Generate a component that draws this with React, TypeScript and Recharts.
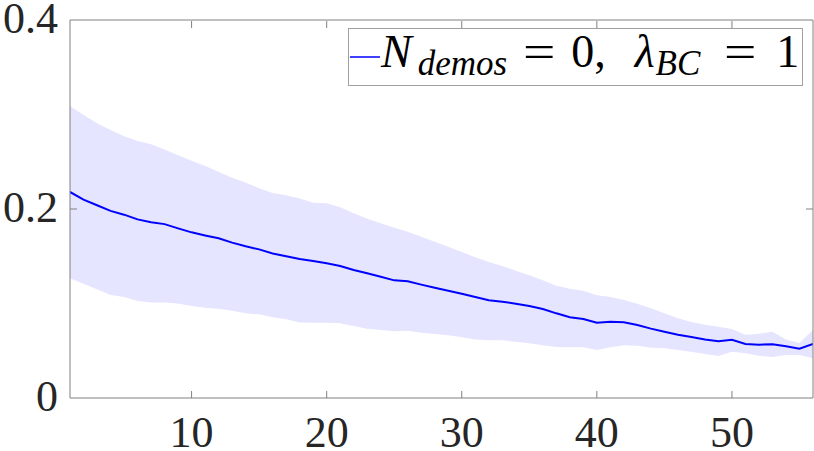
import React from "react";
import {
  ComposedChart,
  Area,
  Line,
  XAxis,
  YAxis,
  Legend,
} from "recharts";

// step index (x axis)
const steps = [
  1, 2, 3, 4, 5, 6, 7, 8, 9, 10, 11, 12, 13, 14, 15, 16, 17, 18, 19, 20,
  21, 22, 23, 24, 25, 26, 27, 28, 29, 30, 31, 32, 33, 34, 35, 36, 37, 38, 39, 40,
  41, 42, 43, 44, 45, 46, 47, 48, 49, 50, 51, 52, 53, 54, 55, 56,
];

const meanVals = [
  0.218, 0.21, 0.204, 0.198, 0.194, 0.189, 0.186, 0.184, 0.1795, 0.1753,
  0.172, 0.169, 0.1644, 0.1605, 0.1573, 0.153, 0.15, 0.147, 0.145, 0.1425,
  0.1397, 0.1354, 0.132, 0.1284, 0.1245, 0.1235, 0.12, 0.1167, 0.1136, 0.1104,
  0.1069, 0.1034, 0.1019, 0.0998, 0.0974, 0.0942, 0.0896, 0.0854, 0.0836, 0.0797,
  0.0808, 0.0801, 0.0772, 0.0734, 0.0702, 0.067, 0.0646, 0.062, 0.06, 0.0617,
  0.0571, 0.0564, 0.0568, 0.0547, 0.0522, 0.0571,
];

const upperVals = [
  0.309, 0.2995, 0.2907, 0.2836, 0.277, 0.272, 0.2684, 0.263, 0.257, 0.251,
  0.2455, 0.2395, 0.233, 0.228, 0.222, 0.217, 0.2145, 0.211, 0.2067, 0.206,
  0.2018, 0.1954, 0.1898, 0.1848, 0.1802, 0.176, 0.1707, 0.1654, 0.16, 0.1545,
  0.1489, 0.1439, 0.1397, 0.1347, 0.1298, 0.1245, 0.1188, 0.1155, 0.1136, 0.1087,
  0.1069, 0.1037, 0.0998, 0.0949, 0.0896, 0.0843, 0.0804, 0.0776, 0.0755, 0.073,
  0.067, 0.068, 0.0702, 0.062, 0.0582, 0.072,
];

const lowerVals = [
  0.1266, 0.121, 0.115, 0.109, 0.107, 0.1026, 0.101, 0.101, 0.1, 0.0974,
  0.0956, 0.0945, 0.0924, 0.0896, 0.0885, 0.0854, 0.0833, 0.08, 0.0797, 0.0797,
  0.079, 0.0762, 0.0734, 0.072, 0.0706, 0.0712, 0.069, 0.0677, 0.0663, 0.0642,
  0.062, 0.061, 0.061, 0.0596, 0.0579, 0.0557, 0.054, 0.0536, 0.0536, 0.0508,
  0.0536, 0.0557, 0.0554, 0.0533, 0.0526, 0.0508, 0.049, 0.0466, 0.0444, 0.049,
  0.0473, 0.0448, 0.0434, 0.0455, 0.0455, 0.042,
];

const xTicks = [10, 20, 30, 40, 50];
const yTicks = [0, 0.2, 0.4];
const yTickLabels = ["0", "0.2", "0.4"];

const data = steps.map((s, i) => ({
  step: s,
  mean: meanVals[i],
  band: [lowerVals[i], upperVals[i]],
}));

const colors = {
  line: "#0000ff",
  band: "#e5e5ff",
  axis: "#808080",
  text: "#262626",
};

const serif = "'Liberation Serif', 'DejaVu Serif', serif";
const TICK_LEN = 7;

// MATLAB-style ticks: marks point into the axes box
const BottomTick = ({ x, y, payload }: any) => (
  <g>
    <line x1={x} x2={x} y1={y} y2={y - TICK_LEN} stroke={colors.axis} />
    <text x={x} y={y + 49} textAnchor="middle" fontSize={44} fill={colors.text} fontFamily={serif}>
      {payload.value}
    </text>
  </g>
);

// top axis has height 1, so its line sits at y + 1
const TopTick = ({ x, y }: any) => (
  <line x1={x} x2={x} y1={y + 1} y2={y + 1 + TICK_LEN} stroke={colors.axis} />
);

const LeftTick = ({ x, y, payload }: any) => {
  const idx = yTicks.indexOf(payload.value);
  return (
    <g>
      {payload.value > 0 && payload.value < 0.4 && (
        <line x1={x} x2={x + TICK_LEN} y1={y} y2={y} stroke={colors.axis} />
      )}
      <text x={x - 12} y={y + 12.5} textAnchor="end" fontSize={44} fill={colors.text} fontFamily={serif}>
        {idx >= 0 ? yTickLabels[idx] : payload.value}
      </text>
    </g>
  );
};

const RightTick = ({ x, y, payload }: any) =>
  payload.value > 0 && payload.value < 0.4 ? (
    <line x1={x} x2={x - TICK_LEN} y1={y} y2={y} stroke={colors.axis} />
  ) : null;

// pieces of the LaTeX-ish label, spaced like math mode
const sub = (txt: string, ml: number) => (
  <span
    style={{
      display: "inline-block",
      fontSize: 35,
      fontStyle: "italic",
      position: "relative",
      top: 8,
      marginLeft: ml,
    }}
  >
    {txt}
  </span>
);

const eq = (ml: number) => (
  <span
    style={{
      display: "inline-block",
      width: 33,
      marginLeft: ml,
      transform: "scaleX(1.25)",
      transformOrigin: "left center",
    }}
  >
    =
  </span>
);

const LegendBox = () => (
  <div
    style={{
      position: "relative",
      boxSizing: "border-box",
      width: 455,
      height: 58,
      border: "1px solid #a0a0a0",
      background: "#fff",
      fontFamily: serif,
      color: "#000",
      whiteSpace: "nowrap",
    }}
  >
    <svg width={30} height={6} style={{ position: "absolute", left: 1, top: 25 }}>
      <line x1={0} x2={30} y1={3} y2={3} stroke={colors.line} strokeWidth={1.5} />
    </svg>
    <div
      style={{
        position: "absolute",
        left: 32,
        top: -3,
        fontSize: 46,
        lineHeight: "51px",
      }}
    >
      <i>N</i>
      {sub("demos", 6)}
      {eq(16)}
      <span style={{ marginLeft: 15 }}>0,</span>
      <i style={{ marginLeft: 29 }}>λ</i>
      {sub("BC", 1)}
      {eq(24)}
      <span style={{ marginLeft: 19 }}>1</span>
    </div>
  </div>
);

export default function App() {
  return (
    <div style={{ position: "absolute", left: 0, top: 0, background: "#fff" }}>
      <ComposedChart
        width={814}
        height={451}
        data={data}
        margin={{ top: 19, right: 0, bottom: 0, left: 0 }}
      >
        <XAxis
          dataKey="step"
          type="number"
          domain={[1, 56]}
          ticks={xTicks}
          allowDataOverflow
          height={53}
          tickSize={0}
          tickMargin={0}
          tickLine={false}
          axisLine={{ stroke: colors.axis }}
          tick={<BottomTick />}
          interval={0}
        />
        <XAxis
          xAxisId="top"
          orientation="top"
          dataKey="step"
          type="number"
          domain={[1, 56]}
          ticks={xTicks}
          allowDataOverflow
          height={1}
          tickSize={0}
          tickMargin={0}
          tickLine={false}
          axisLine={{ stroke: colors.axis }}
          tick={<TopTick />}
          interval={0}
        />
        <YAxis
          type="number"
          domain={[0, 0.4]}
          ticks={yTicks}
          allowDataOverflow
          width={70}
          tickSize={0}
          tickMargin={0}
          tickLine={false}
          axisLine={{ stroke: colors.axis }}
          tick={<LeftTick />}
          interval={0}
        />
        <YAxis
          yAxisId="right"
          orientation="right"
          type="number"
          domain={[0, 0.4]}
          ticks={yTicks}
          allowDataOverflow
          width={1}
          tickSize={0}
          tickMargin={0}
          tickLine={false}
          axisLine={{ stroke: colors.axis }}
          tick={<RightTick />}
          interval={0}
        />
        {/* band is tied to the top/right axes so they get drawn too; same domains */}
        <Area
          xAxisId="top"
          yAxisId="right"
          dataKey="band"
          type="linear"
          stroke="none"
          fill={colors.band}
          fillOpacity={1}
          isAnimationActive={false}
          activeDot={false}
        />
        <Line
          dataKey="mean"
          type="linear"
          stroke={colors.line}
          strokeWidth={2}
          dot={false}
          isAnimationActive={false}
        />
        <Legend
          layout="horizontal"
          verticalAlign="middle"
          align="center"
          content={<LegendBox />}
          wrapperStyle={{ left: 348, top: 28, width: 455, height: 58 }}
        />
      </ComposedChart>
    </div>
  );
}
